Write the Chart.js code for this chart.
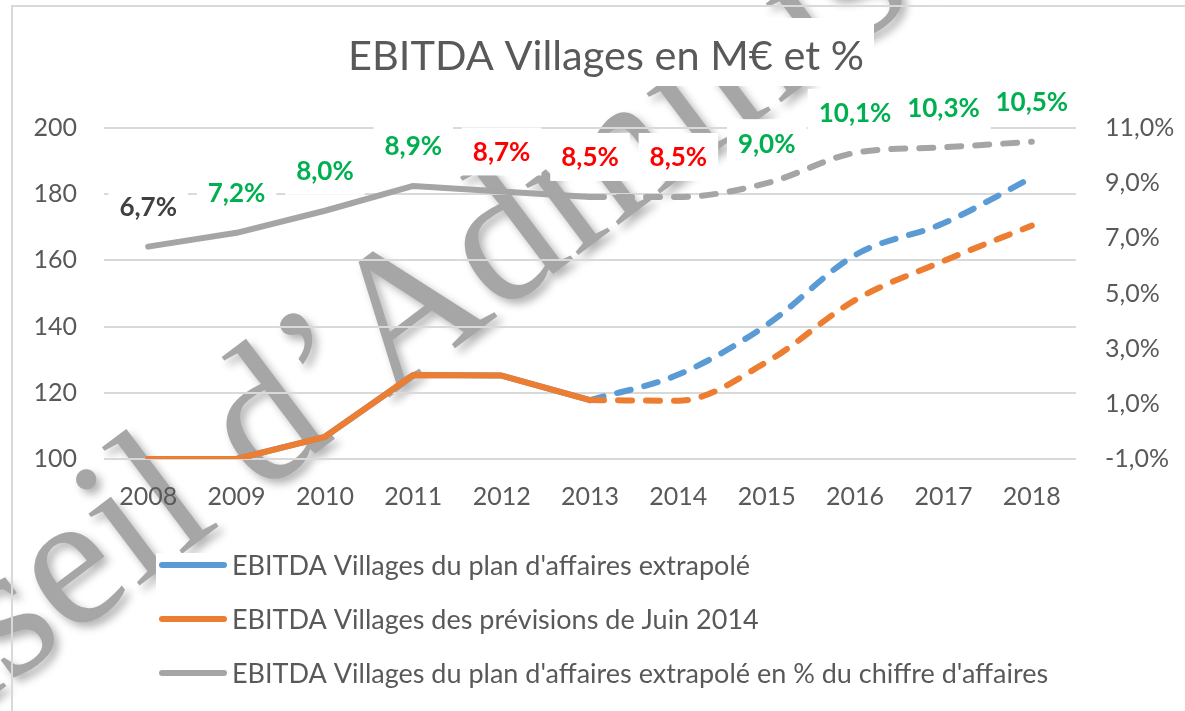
<!DOCTYPE html>
<html><head><meta charset="utf-8">
<script src="https://cdn.jsdelivr.net/npm/chart.js@4"></script>
<style>html,body{margin:0;padding:0;background:#fff}#wrap{width:1185px;height:711px;position:relative}</style>
</head><body><div id="wrap"><canvas id="c" width="1185" height="711"></canvas></div>
<script>
// ---- data ----
const years = ['2008','2009','2010','2011','2012','2013','2014','2015','2016','2017','2018'];
const ebitdaPlan = [100, 100, 106.7, 125.4, 125.2, 117.8, 125.5, 140.5, 161.6, 171.2, 185];
const ebitdaJuin = [100, 100, 106.7, 125.4, 125.2, 117.8, 117.6, 129.3, 148, 159.8, 170.5];
const ebitdaPct = [6.7, 7.2, 8.0, 8.9, 8.7, 8.5, 8.5, 9.0, 10.1, 10.3, 10.5];
const pctLabelColors = ['#404040','#00B050','#00B050','#00B050','#FF0000','#FF0000','#FF0000','#00B050','#00B050','#00B050','#00B050'];
const seriesNames = [
  "EBITDA Villages du plan d'affaires extrapolé",
  "EBITDA Villages des prévisions de Juin 2014",
  "EBITDA Villages du plan d'affaires extrapolé en % du chiffre d'affaires"
];
const seriesColors = ['#5B9BD5', '#ED7D31', '#A5A5A5'];
const leftTicks = [100, 120, 140, 160, 180, 200];
const rightTicks = [-1, 1, 3, 5, 7, 9, 11];
const titleText = 'EBITDA Villages en M€ et %';
const watermarkText = 'Conseil d’Administration';
const lastActual = 5; // 2013

const FONT = 'Lato';
const TXT = '#595959';

function part(arr, solid) {
  return arr.map((v, i) => solid ? (i <= lastActual ? v : null) : (i >= lastActual ? v : null));
}
function ds(k, arr, solid, axis, order) {
  return {
    label: seriesNames[k], data: part(arr, solid), yAxisID: axis, order: order,
    borderColor: seriesColors[k], backgroundColor: seriesColors[k],
    borderWidth: 6, pointRadius: 0, pointHoverRadius: 0,
    borderCapStyle: 'round', borderJoinStyle: 'round',
    borderDash: solid ? [] : [14, 14],
    tension: solid ? 0 : 0.4,
    cubicInterpolationMode: solid ? 'default' : 'monotone',
    spanGaps: false, fill: false
  };
}
const fmtPct = v => v.toFixed(1).replace('.', ',') + '%';

const bgPlugin = {
  id: 'bg',
  beforeDraw(chart) {
    const ctx = chart.ctx;
    ctx.save();
    ctx.fillStyle = '#fff';
    ctx.fillRect(0, 0, chart.width, chart.height);
    // watermark, anchored on the centre of the baseline of the "A"
    const fs = 192;
    ctx.font = fs + 'px "Liberation Serif"';
    const pre = ctx.measureText('Conseil d’').width + ctx.measureText('A').width / 2;
    ctx.translate(443, 357);
    ctx.rotate(-37 * Math.PI / 180);
    ctx.shadowColor = 'rgba(0,0,0,0.3)';
    ctx.shadowBlur = 9;
    ctx.shadowOffsetX = 5;
    ctx.shadowOffsetY = 5;
    ctx.fillStyle = '#A6A6A6';
    ctx.textBaseline = 'alphabetic';
    ctx.fillText(watermarkText, -pre, 0);
    ctx.restore();
    ctx.save();
    // chart border
    ctx.strokeStyle = '#D9D9D9';
    ctx.lineWidth = 2;
    ctx.beginPath();
    ctx.moveTo(12, 711); ctx.lineTo(12, 6); ctx.lineTo(1185, 6);
    ctx.stroke();
    // title box + title
    ctx.fillStyle = '#fff';
    ctx.fillRect(338, 18, 536, 68);
    ctx.fillStyle = TXT;
    ctx.font = '41.5px ' + FONT;
    ctx.textAlign = 'center';
    ctx.textBaseline = 'alphabetic';
    ctx.fillText(titleText, 606, 70);
    ctx.restore();
  },
  afterDatasetsDraw(chart) {
    const ctx = chart.ctx;
    const xs = chart.scales.x, ys = chart.scales.y1;
    ctx.save();
    ctx.font = 'bold 26px ' + FONT;
    ctx.textAlign = 'center';
    ctx.textBaseline = 'middle';
    ebitdaPct.forEach((v, i) => {
      const x = xs.getPixelForValue(i);
      const y = ys.getPixelForValue(v) - 40;
      const t = fmtPct(v);
      const w = ctx.measureText(t).width;
      ctx.fillStyle = '#fff';
      ctx.fillRect(x - w / 2 - 11, y - 24, w + 22, 48);
      ctx.fillStyle = pctLabelColors[i];
      ctx.fillText(t, x, y + 1);
    });
    ctx.restore();
  },
  afterDraw(chart) {
    const ctx = chart.ctx;
    ctx.save();
    ctx.fillStyle = '#fff';
    ctx.fillRect(156, 553, 912, 147);
    ctx.font = '27px ' + FONT;
    ctx.textBaseline = 'middle';
    ctx.textAlign = 'left';
    for (let k = 0; k < 3; k++) {
      const y = 565 + 54 * k;
      ctx.strokeStyle = seriesColors[k];
      ctx.lineWidth = 6;
      ctx.lineCap = 'round';
      ctx.beginPath(); ctx.moveTo(162, y); ctx.lineTo(224, y); ctx.stroke();
      ctx.fillStyle = TXT;
      ctx.fillText(seriesNames[k], 232, y + 1);
    }
    ctx.restore();
  }
};

new Chart(document.getElementById('c'), {
  type: 'line',
  data: {
    labels: years,
    datasets: [
      ds(0, ebitdaPlan, true, 'y', 3),
      ds(0, ebitdaPlan, false, 'y', 3),
      ds(1, ebitdaJuin, true, 'y', 1),
      ds(1, ebitdaJuin, false, 'y', 1),
      ds(2, ebitdaPct, true, 'y1', 2),
      ds(2, ebitdaPct, false, 'y1', 2)
    ]
  },
  options: {
    responsive: false, animation: false, devicePixelRatio: 1,
    layout: { padding: { left: 0, right: 0, top: 128, bottom: 192 } },
    plugins: {
      legend: { display: false },
      tooltip: { enabled: false },
      title: { display: false }
    },
    scales: {
      x: {
        offset: true,
        grid: { display: false, drawTicks: false },
        border: { display: false },
        ticks: { color: TXT, font: { family: FONT, size: 25 }, padding: 23, autoSkip: false, maxRotation: 0 },
        afterFit(s) { s.height = 60; }
      },
      y: {
        position: 'left',
        min: leftTicks[0], max: leftTicks[leftTicks.length - 1],
        afterBuildTicks(s) { s.ticks = leftTicks.map(v => ({ value: v })); },
        grid: { color: '#D9D9D9', lineWidth: 2, drawTicks: false },
        border: { display: false },
        ticks: { color: TXT, font: { family: FONT, size: 25 }, padding: 27 },
        afterFit(s) { s.width = 104; }
      },
      y1: {
        position: 'right',
        min: rightTicks[0], max: rightTicks[rightTicks.length - 1],
        afterBuildTicks(s) { s.ticks = rightTicks.map(v => ({ value: v })); },
        grid: { display: false, drawTicks: false },
        border: { display: false },
        ticks: { color: TXT, font: { family: FONT, size: 25 }, padding: 29, callback: v => fmtPct(v) },
        afterFit(s) { s.width = 109; }
      }
    }
  },
  plugins: [bgPlugin]
});
</script></body></html>
